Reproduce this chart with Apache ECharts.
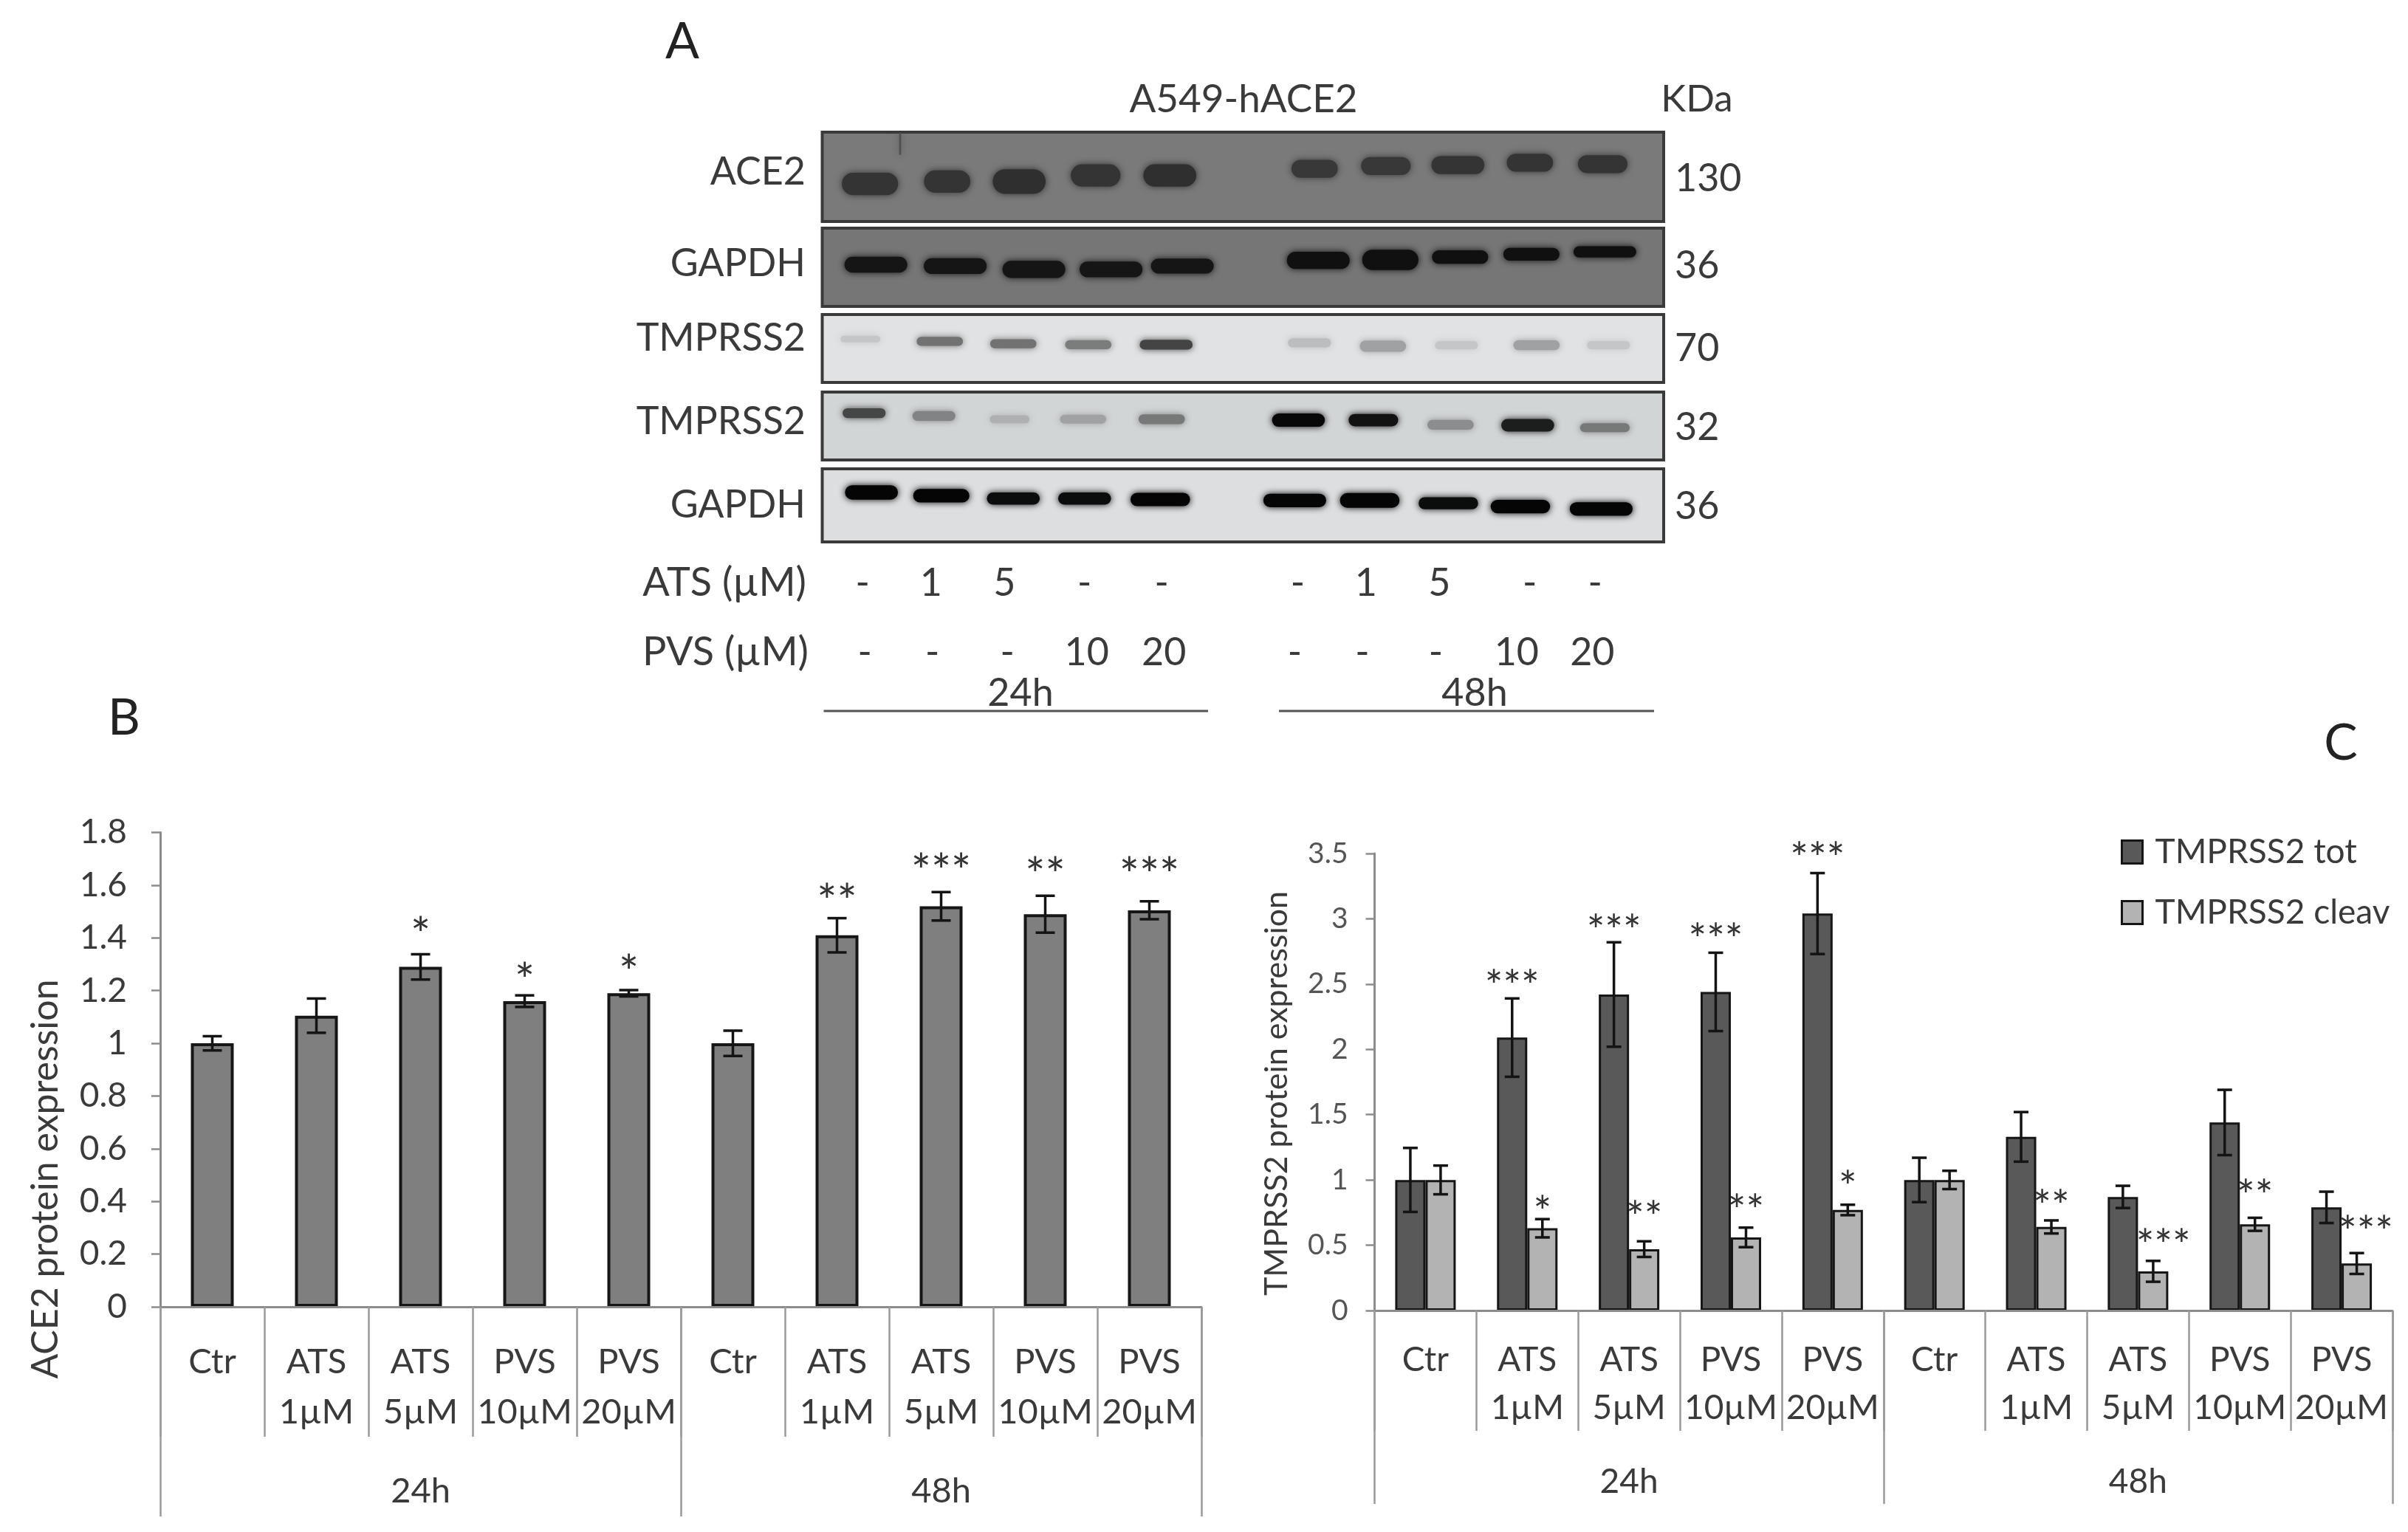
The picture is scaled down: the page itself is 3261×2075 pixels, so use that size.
<!DOCTYPE html>
<html><head><meta charset="utf-8">
<style>html,body{margin:0;padding:0;background:#fff}#c{width:3261px;height:2075px}</style>
<script src="https://cdn.jsdelivr.net/npm/echarts@6/dist/echarts.min.js"></script>
</head><body><div id="c"></div>
<script>
// ---------- data ----------
const treatments = ['Ctr','ATS\n1µM','ATS\n5µM','PVS\n10µM','PVS\n20µM','Ctr','ATS\n1µM','ATS\n5µM','PVS\n10µM','PVS\n20µM'];
const timepoints = ['24h','48h'];

const ace2Values = [1.0,1.105,1.29,1.16,1.19,1.0,1.41,1.52,1.49,1.505];
const ace2Errors = [0.027,0.065,0.048,0.022,0.012,0.048,0.065,0.054,0.07,0.034];
const ace2Stars  = ['','','*','*','*','','**','***','**','***'];
const ace2StarY  = [0,0,1.453,1.279,1.311,0,1.578,1.693,1.679,1.679];

const totValues = [1.0,2.09,2.42,2.44,3.04,1.0,1.33,0.87,1.44,0.79];
const totErrors = [0.245,0.30,0.40,0.30,0.31,0.17,0.19,0.085,0.25,0.12];
const totStars  = ['','***','***','***','***','','','','',''];
const totStarY  = [0,2.556,2.98,2.91,3.53,0,0,0,0,0];

const cleavValues = [1.0,0.63,0.47,0.56,0.77,1.0,0.64,0.30,0.66,0.36];
const cleavErrors = [0.11,0.07,0.06,0.075,0.04,0.07,0.05,0.08,0.05,0.08];
const cleavStars  = ['','*','**','**','*','','**','***','**','***'];
const cleavStarY  = [0,0.825,0.787,0.833,1.016,0,0.87,0.567,0.947,0.673];
const cleavStarShift = [0,0,0,0,0,0,0,0.1,0,0.09];

const seriesNames = ['TMPRSS2 tot','TMPRSS2 cleav'];

// western-blot bands: [lane position, height on membrane, band length, band thickness, darkness]
const blotAce2 = [[65,110,85,50,.75],[170,105,70,50,.75],[268,105,80,55,.8],[372,92,75,50,.75],[473,92,80,50,.8],[670,78,70,40,.7],[767,72,75,40,.7],[865,70,80,40,.75],[963,65,70,40,.75],[1062,68,75,40,.75],[106,25,3,50,.45]];
const blotGapdh1 = [[73,77,95,35,.95],[181,80,95,35,.95],[288,87,95,38,.95],[393,87,95,35,.95],[490,80,95,33,.95],[675,68,95,38,1],[773,67,85,45,1],[868,61,85,30,1],[965,55,85,28,1],[1065,50,95,25,1]];
const blotTmprssFull = [[52,52,60,15,.15],[160,57,70,20,.6],[260,62,70,20,.6],[362,64,70,20,.55],[468,64,80,22,.85],[663,60,65,20,.2],[763,67,70,25,.35],[863,65,65,18,.15],[972,65,70,22,.35],[1070,65,65,18,.15]];
const blotTmprssCleav = [[57,45,65,22,.7],[152,51,65,22,.4],[255,58,60,18,.18],[355,58,70,20,.25],[462,58,70,22,.45],[648,60,80,30,1],[750,60,75,28,.95],[855,70,70,22,.35],[960,71,80,28,.9],[1065,76,75,20,.45]];
const blotGapdh2 = [[67,50,80,32,1],[162,57,85,30,1],[260,63,80,27,.97],[357,63,80,27,.97],[460,65,90,30,1],[643,67,95,30,1],[745,67,90,33,1],[852,73,90,27,.97],[950,80,90,30,1],[1060,85,95,30,1]];

const blotNames = ['ACE2','GAPDH','TMPRSS2','TMPRSS2','GAPDH'];
const blotKda   = ['130','36','70','32','36'];
const atsDoses  = ['-','1','5','-','-','-','1','5','-','-'];
const pvsDoses  = ['-','-','-','10','20','-','-','-','10','20'];

// ---------- layout & style ----------
const FONT = 'Lato';
const TXT = '#3a3a3a';
const LEFT = {l:217, r:1627, t:1127.6, b:1770, bw:58};
const RIGHT = {l:1861.5, r:3240, t:1156, b:1775, bw:41};
const BLOTS = [
  {data:blotAce2, t:179, b:300, h:190, bg:'#7a7a7a', dark:[28,28,28], nameY:233, kY:242},
  {data:blotGapdh1, t:309, b:415, h:165, bg:'#767676', dark:[16,16,16], nameY:357, kY:360},
  {data:blotTmprssFull, t:426, b:518, h:144, bg:'#e0e2e3', dark:[40,40,40], nameY:458, kY:472},
  {data:blotTmprssCleav, t:531, b:623, h:145, bg:'#d2d5d6', dark:[8,8,8], nameY:571, kY:579},
  {data:blotGapdh2, t:635, b:734, h:155, bg:'#dcdee0', dark:[5,5,5], nameY:684, kY:686}
];
const BL = 1113.5, BR = 2253;
const atsLaneX = [350,443,543,652,757,942,1035,1135,1258,1347].map(z=>820+.995*z);
const pvsLaneX = [353,445,547,655,760,938,1030,1130,1240,1343].map(z=>820+.995*z);

const grids=[], xAxes=[], yAxes=[], series=[];

function addChart(c, opts, yMax, yStep){
  const gi = grids.length;
  grids.push({left:c.l, top:c.t, width:c.r-c.l, height:c.b-c.t, containLabel:false});
  const xi = xAxes.length, yi = yAxes.length;
  const lineStyle = {color:'#8c8c8c', width:3};
  xAxes.push({type:'category', gridIndex:gi, data:treatments, position:'bottom',
    axisLine:{onZero:false, lineStyle}, axisTick:{show:true, alignWithLabel:false, length:opts.tick1, lineStyle:{color:'#9a9a9a',width:2.5}},
    axisLabel:{interval:0, hideOverlap:false, margin:opts.m1, color:TXT, fontFamily:FONT, fontSize:opts.fs, lineHeight:opts.lh}, z:3});
  xAxes.push({type:'category', gridIndex:gi, data:timepoints, position:'bottom',
    axisLine:{onZero:false, lineStyle:{color:'#8c8c8c',width:0}}, axisTick:{show:true, alignWithLabel:false, length:opts.tick2, lineStyle:{color:'#9a9a9a',width:2.5}},
    axisLabel:{interval:0, margin:opts.m2, color:TXT, fontFamily:FONT, fontSize:opts.fs, lineHeight:50}});
  yAxes.push({type:'value', gridIndex:gi, min:0, max:yMax, interval:yStep,
    axisLine:{show:true, lineStyle}, axisTick:{show:true, length:12, lineStyle:{color:'#8c8c8c',width:2.5}},
    splitLine:{show:false},
    axisLabel:{margin:opts.ym, color:opts.yColor, fontFamily:FONT, fontSize:opts.yFs}});
  return {xi, yi};
}

function barSeries(name, vals, ax, bw, color, bwid){
  return {type:'bar', name, data:vals, xAxisIndex:ax.xi, yAxisIndex:ax.yi, barWidth:bw, barGap:'0%',
    itemStyle:{color, borderColor:'#161616', borderWidth:bwid}, z:2, silent:true};
}
function errorSeries(vals, errs, ax, dx, cap){
  return {type:'custom', xAxisIndex:ax.xi, yAxisIndex:ax.yi, z:5, silent:true,
    data:vals.map((v,i)=>[i,v,errs[i]]), encode:{x:0,y:1},
    renderItem(p,api){
      const i=api.value(0), v=api.value(1), e=api.value(2);
      const a=api.coord([i,v+e]), b=api.coord([i,v-e]), x=a[0]+dx;
      const st={stroke:'#141414', lineWidth:3.5, fill:null};
      return {type:'group', children:[
        {type:'line', shape:{x1:x,y1:a[1],x2:x,y2:b[1]}, style:st},
        {type:'line', shape:{x1:x-cap,y1:a[1],x2:x+cap,y2:a[1]}, style:st},
        {type:'line', shape:{x1:x-cap,y1:b[1],x2:x+cap,y2:b[1]}, style:st}
      ]};
    }};
}
function starSeries(stars, ys, ax, dx, size, shift, nudge){
  return {type:'custom', xAxisIndex:ax.xi, yAxisIndex:ax.yi, z:6, silent:true,
    data:stars.map((s,i)=>[i,ys[i],s,shift?shift[i]:0]), encode:{x:0,y:1},
    renderItem(p,api){
      const i=api.value(0), s=stars[i];
      if(!s) return null;
      const c=api.coord([i,api.value(1)]);
      const w=api.size([1,0])[0];
      return {type:'text', x:c[0]+dx+w*api.value(3), y:c[1]+nudge,
        style:{text:s, fill:'#333', font:size+'px '+FONT, align:'center', verticalAlign:'middle'}};
    }};
}

// panel B
const axB = addChart(LEFT,{tick1:176,tick2:284,m1:41,m2:225,fs:47,lh:68,ym:45,yColor:'#3a3a3a',yFs:46},1.8,0.2);
series.push(barSeries('ACE2',ace2Values,axB,LEFT.bw,'#7f7f7f',4));
series.push(errorSeries(ace2Values,ace2Errors,axB,0,13));
series.push(starSeries(ace2Stars,ace2StarY,axB,0,64,null,17));

// panel C
const axC = addChart(RIGHT,{tick1:163,tick2:262,m1:35,m2:207,fs:46,lh:65,ym:36,yColor:'#555',yFs:39},3.5,0.5);
series.push(barSeries(seriesNames[0],totValues,axC,RIGHT.bw,'#595959',3));
series.push(barSeries(seriesNames[1],cleavValues,axC,RIGHT.bw,'#b3b3b3',3));
series.push(errorSeries(totValues,totErrors,axC,-RIGHT.bw/2,10));
series.push(errorSeries(cleavValues,cleavErrors,axC,RIGHT.bw/2,10));
series.push(starSeries(totStars,totStarY,axC,-RIGHT.bw/2,58,null,14));
series.push(starSeries(cleavStars,cleavStarY,axC,RIGHT.bw/2,58,cleavStarShift,14));

// panel A: blots drawn as blurred bands on hidden value axes
BLOTS.forEach(b=>{
  const gi=grids.length;
  grids.push({left:BL, top:b.t, width:BR-BL, height:b.b-b.t, show:true, backgroundColor:b.bg, borderColor:'#3a3a3a', borderWidth:4});
  const xi=xAxes.length, yi=yAxes.length;
  xAxes.push({type:'value', gridIndex:gi, min:0, max:1145, show:false});
  yAxes.push({type:'value', gridIndex:gi, min:0, max:b.h, inverse:true, show:false});
  const base=echarts.color.parse(b.bg);
  series.push({type:'custom', xAxisIndex:xi, yAxisIndex:yi, silent:true, z:2, clip:true,
    data:b.data, encode:{x:0,y:1},
    renderItem(p,api){
      const c=api.coord([api.value(0),api.value(1)]);
      const s=api.size([api.value(2),api.value(3)]);
      const d=api.value(4);
      const col='rgb('+[0,1,2].map(k=>Math.round(base[k]+(b.dark[k]-base[k])*d)).join(',')+')';
      const w=s[0]*.9, h=s[1]*.95;
      return {type:'rect', shape:{x:c[0]-w/2,y:c[1]-h/2,width:w,height:h,r:Math.min(h,w)/2},
        style:{fill:col, shadowBlur:10, shadowColor:col}};
    }});
});

// ---------- annotations ----------
const g=[];
const text=(s,x,y,size,align,color,rot)=>g.push({type:'text',x,y,silent:true,rotation:rot||0,
  style:{text:s,fill:color||TXT,font:size+'px '+FONT,align:align||'center',verticalAlign:'middle'}});
text('A',924,57,68,'center','#222');
text('B',168,973,68,'center','#222');
text('C',3170,1007,68,'center','#222');
text('A549-hACE2',1684,135,53);
text('KDa',2298,135,51);
BLOTS.forEach((b,i)=>{
  text(blotNames[i],1091,b.nameY,52,'right');
  text(blotKda[i],2268,b.kY,52,'left');
});
text('ATS (µM)',1092,790,54,'right');
text('PVS (µM)',1095,884,54,'right');
atsDoses.forEach((s,i)=>text(s,atsLaneX[i],790,52));
pvsDoses.forEach((s,i)=>text(s,pvsLaneX[i],884,52));
text(timepoints[0],1382,939,52);
text(timepoints[1],1997,939,52);
text('ACE2 protein expression',62,1597,50,'center',TXT,Math.PI/2);
text('TMPRSS2 protein expression',1729,1481,43,'center',TXT,Math.PI/2);
[[1115.5,1636],[1732,2240]].forEach(r=>g.push({type:'line',silent:true,
  shape:{x1:r[0],y1:963,x2:r[1],y2:963},style:{stroke:'#555',lineWidth:3}}));

const chart=echarts.init(document.getElementById('c'),null,{renderer:'canvas'});
chart.setOption({
  animation:false, backgroundColor:'#fff',
  grid:grids, xAxis:xAxes, yAxis:yAxes, series,
  legend:{data:seriesNames, orient:'vertical', left:2867, top:1126, itemWidth:28, itemHeight:31, itemGap:36,
    icon:'rect', itemStyle:{borderColor:'#161616',borderWidth:3},
    textStyle:{fontFamily:FONT,fontSize:46,color:TXT,padding:[0,0,0,12]}},
  graphic:{elements:g}
});
</script></body></html>
